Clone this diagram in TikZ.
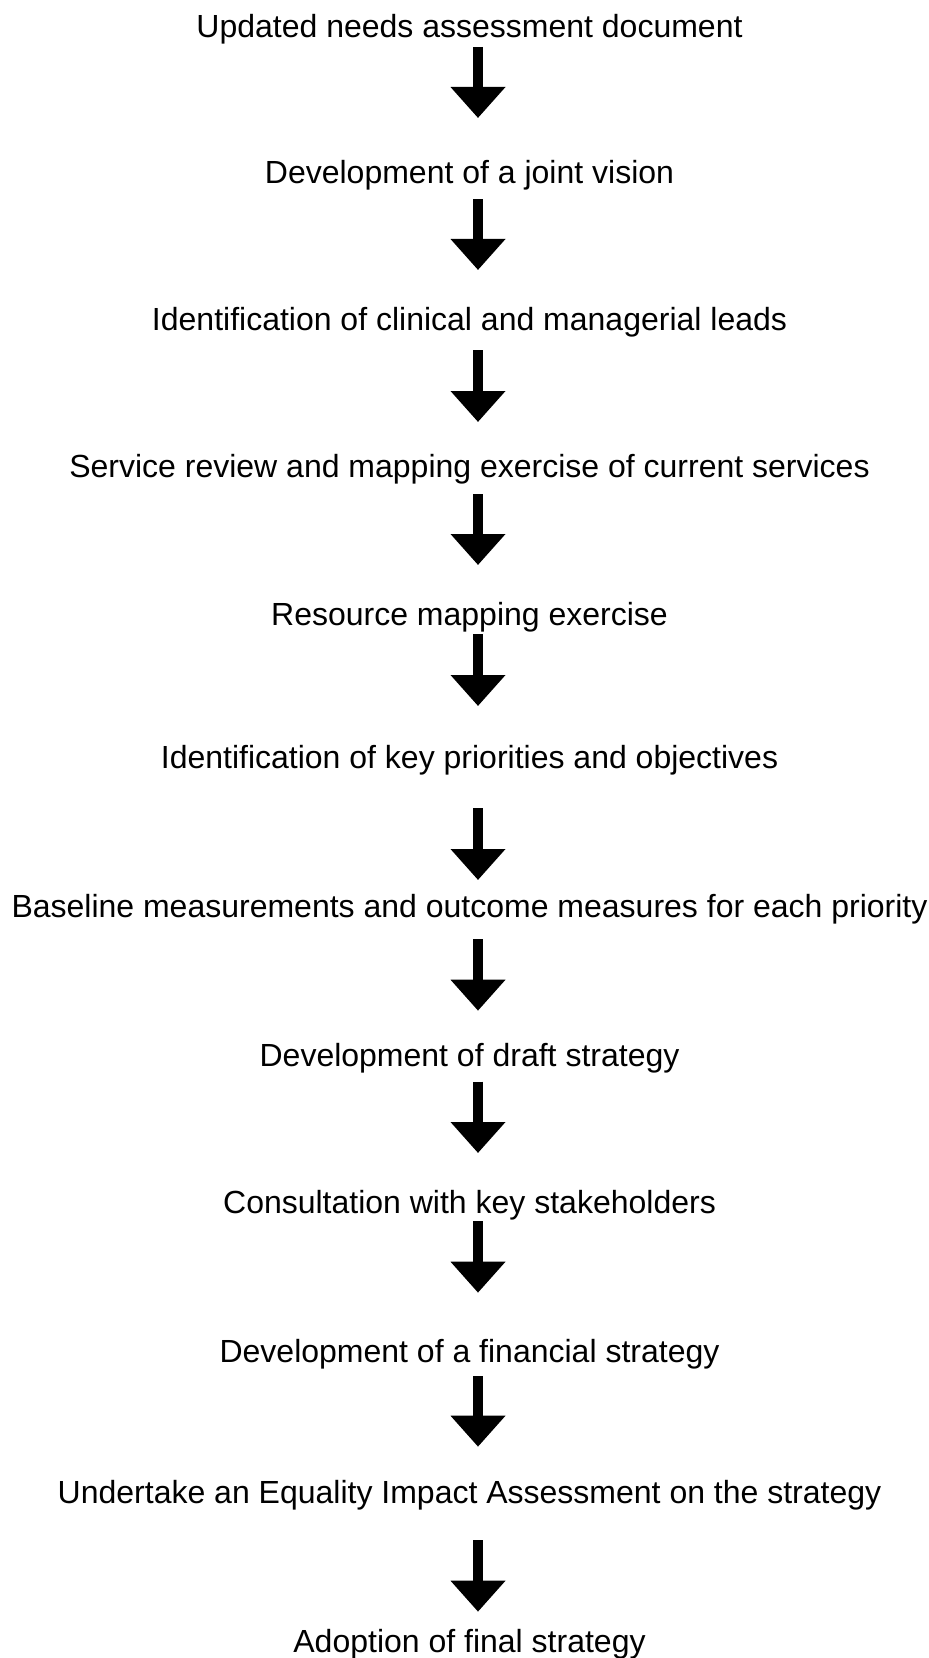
\documentclass[tikz,border=0pt]{standalone}
\usepackage{fontspec}
\setmainfont{Liberation Sans}
\usetikzlibrary{arrows.meta}

\tikzset{
  steptext/.style={anchor=base, inner sep=0pt, font=\fontsize{24}{28}\selectfont},
  flowarrow/.style={line width=7.5pt, -{Triangle[width=39.75pt, length=23.25pt]}}
}

\begin{document}
\begin{tikzpicture}[x=0.75pt, y=-0.75pt]
  \useasboundingbox (0,0) rectangle (928,1658);
  % the steps, one per line
  \node[steptext] (t1) at (469.5,37.3) {Updated needs assessment document};
  \node[steptext] (t2) at (469.5,183.8) {Development of a joint vision};
  \node[steptext] (t3) at (469.5,330.5) {Identification of clinical and managerial leads};
  \node[steptext] (t4) at (469.5,477) {Service review and mapping exercise of current services};
  \node[steptext] (t5) at (469.5,625.5) {Resource mapping exercise};
  \node[steptext] (t6) at (469.5,768.8) {Identification of key priorities and objectives};
  \node[steptext] (t7) at (469.5,917.5) {Baseline measurements and outcome measures for each priority};
  \node[steptext] (t8) at (469.5,1066.5) {Development of draft strategy};
  \node[steptext] (t9) at (469.5,1213.8) {Consultation with key stakeholders};
  \node[steptext] (t10) at (469.5,1362) {Development of a financial strategy};
  \node[steptext] (t11) at (469.5,1503.8) {Undertake an Equality Impact Assessment on the strategy};
  \node[steptext] (t12) at (469.5,1652) {Adoption of final strategy};
  % arrows between the steps
  \foreach \i/\top/\tip in {1/47/118, 2/199.3/270, 3/350/422, 4/494/565, 5/634/706,
      6/808/880, 7/939/1010.7, 8/1081.7/1153, 9/1221/1292.7, 10/1376/1446.7, 11/1540/1611.7} {
    \coordinate (top\i) at (478,\top);
    \coordinate (tip\i) at (478,\tip);
    \draw[flowarrow] (top\i) -- (tip\i);
  }
\end{tikzpicture}
\end{document}
